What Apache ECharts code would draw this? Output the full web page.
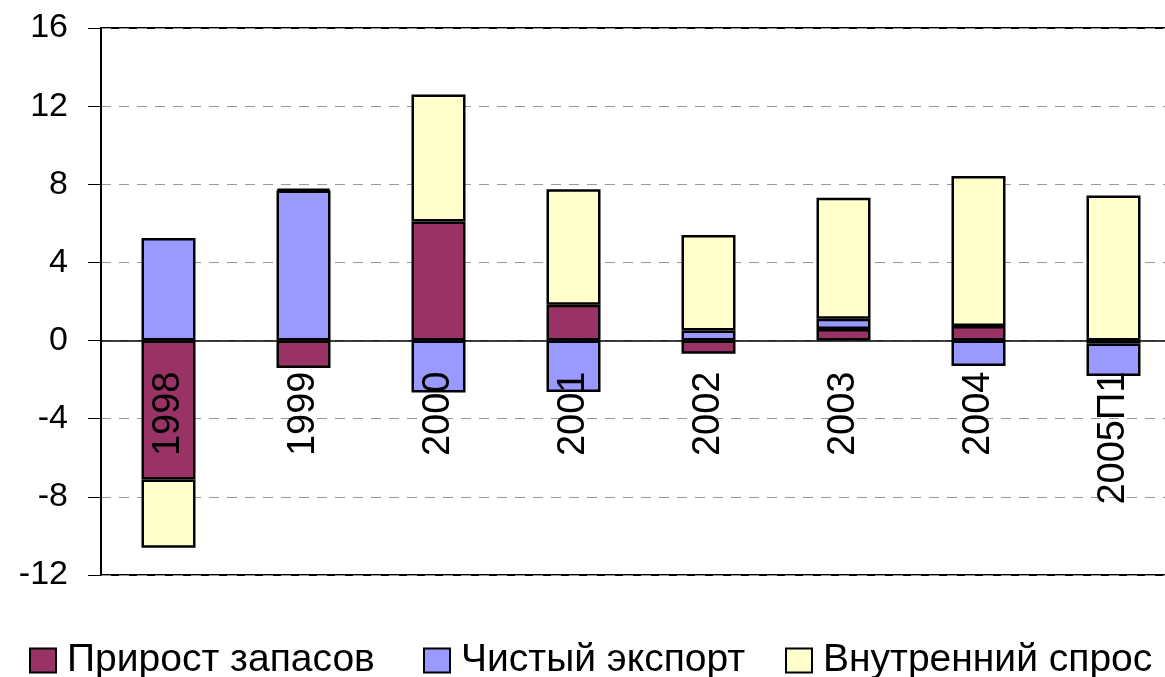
<!DOCTYPE html>
<html>
<head>
<meta charset="utf-8">
<script src="https://cdn.jsdelivr.net/npm/echarts@6/dist/echarts.min.js"></script>
<style>
  html, body { margin: 0; padding: 0; background: #fff; }
  #chart { width: 1165px; height: 677px; }
</style>
</head>
<body>
<div id="chart"></div>
<script>
const years = ['1998', '1999', '2000', '2001', '2002', '2003', '2004', '2005П1'];
const inventory = [-7.11, -1.41, 6.09, 1.84, -0.68, 0.59, 0.75, -0.15];
const netExport = [5.25, 7.68, -2.66, -2.63, 0.51, 0.53, -1.30, -1.66];
const domestic = [-3.49, 0.08, 6.5, 5.9, 4.89, 6.19, 7.67, 7.43];
const names = ['Прирост запасов', 'Чистый экспорт', 'Внутренний спрос'];
const colors = ['#993366', '#9999FF', '#FFFFCC'];
const yMin = -12, yMax = 16;

const font = '"Liberation Sans", Arial, sans-serif';
const chart = echarts.init(document.getElementById('chart'));

// plot box
const gridTop = 28, gridBottom = 102;
const plotH = 677 - gridTop - gridBottom;
// move the category axis up to the zero line
const zeroOffset = -plotH * (0 - yMin) / (yMax - yMin);

function legendAt(i, left) {
    return {
        data: [names[i]],
        left: left,
        top: 636,
        icon: 'rect',
        itemWidth: 26,
        itemHeight: 24,
        textStyle: { fontFamily: font, fontSize: 39, color: '#000', padding: [0, 0, 0, 6] }
    };
}

function bar(i, values) {
    return {
        name: names[i],
        type: 'bar',
        stack: 'total',
        data: values,
        barWidth: '40%',
        itemStyle: { color: colors[i], borderColor: '#000', borderWidth: 2.5 }
    };
}

chart.setOption({
    backgroundColor: '#fff',
    animation: false,
    textStyle: { fontFamily: font },
    legend: [legendAt(0, 24), legendAt(1, 418), legendAt(2, 780)],
    grid: {
        left: 101, right: -16, top: gridTop, bottom: gridBottom,
        outerBoundsMode: 'none',
        containLabel: false,
        show: true, borderColor: '#000', borderWidth: 2
    },
    xAxis: {
        type: 'category',
        data: years,
        z: 10,
        position: 'bottom',
        offset: zeroOffset,
        axisLine: { onZero: false, lineStyle: { color: '#000', width: 1.5 } },
        axisTick: { length: 12, lineStyle: { color: '#000', width: 1.5 } },
        axisLabel: { rotate: 90, margin: 31, fontSize: 38, color: '#000', fontFamily: font }
    },
    yAxis: {
        type: 'value',
        min: yMin,
        max: yMax,
        interval: 4,
        axisLine: { show: true, lineStyle: { color: '#000', width: 2 } },
        axisTick: { show: true, length: 13, lineStyle: { color: '#000' } },
        axisLabel: { margin: 33, fontSize: 34, color: '#000', fontFamily: font },
        splitLine: { lineStyle: { color: '#999', type: [10, 8], width: 1 } }
    },
    series: [bar(0, inventory), bar(1, netExport), bar(2, domestic)]
});
</script>
</body>
</html>
